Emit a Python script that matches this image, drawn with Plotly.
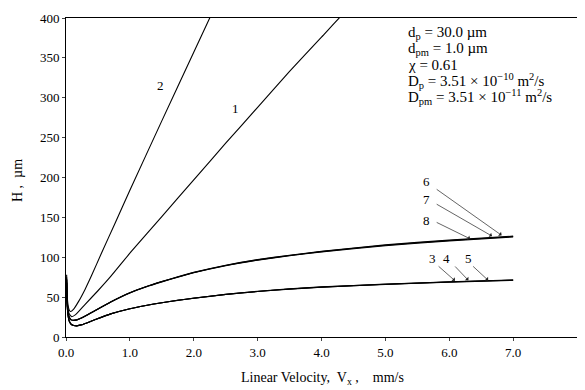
import plotly.graph_objects as go

# ---- data ----
x_c2 = [0.01, 0.015, 0.02, 0.03, 0.05, 0.07, 0.12, 0.2, 0.3, 0.4, 0.56, 0.77, 1.0, 1.5, 2.0, 2.25, 2.3]
h_c2 = [78, 60, 50, 41, 34, 32, 35, 45, 60, 77, 106, 143, 184, 271, 357, 400, 409]

x_c1 = [0.01, 0.015, 0.02, 0.03, 0.05, 0.09, 0.15, 0.3, 0.5, 0.69, 1.03, 1.5, 2.0, 2.5, 3.0, 3.5, 4.0, 4.3, 4.4]
h_c1 = [75, 56, 46, 36, 29, 25.5, 28, 41, 58, 75, 108, 151, 197, 243, 288, 333, 376, 402, 410]

x_grp = [0.01, 0.015, 0.02, 0.03, 0.05, 0.08, 0.12, 0.17, 0.25, 0.43, 0.7, 1.0, 1.25, 1.5, 1.75,
         2.0, 2.5, 3.0, 3.5, 4.0, 5.0, 6.0, 7.0]
h_c6 = [72, 52, 42, 32, 25, 21.5, 21, 21.5, 24, 32, 44, 55.5, 63, 69.5, 75.5,
        81, 90, 97, 102.5, 107.5, 115.5, 121.5, 126.5]
h_c7 = [72, 52, 42, 32, 25, 21.5, 21, 21.5, 24, 32, 44, 55.5, 63, 69.4, 75.3,
        80.8, 89.7, 96.7, 102.2, 107.1, 115, 121, 126]
h_c8 = [72, 52, 42, 32, 25, 21.5, 21, 21.5, 24, 32, 43.8, 55.2, 62.7, 69.1, 75,
        80.5, 89.4, 96.3, 101.8, 106.7, 114.5, 120.5, 125.5]
h_c3 = [68, 48, 38, 28, 20, 16, 14.5, 14, 15.5, 21, 29, 35.5, 39.5, 43, 46,
        48.7, 53.5, 57.3, 60.3, 62.8, 66.3, 69.2, 71.5]
h_c4 = [68, 48, 38, 28, 20, 16, 14.5, 14, 15.5, 21, 29, 35.5, 39.5, 43, 46,
        48.6, 53.4, 57.1, 60.1, 62.6, 66.1, 69.0, 71.3]
h_c5 = [68, 48, 38, 28, 20, 16, 14.5, 14, 15.5, 21, 29, 35.5, 39.5, 43, 45.9,
        48.5, 53.3, 57.0, 60.0, 62.4, 65.9, 68.8, 71.1]

x_ticks = [0, 1, 2, 3, 4, 5, 6, 7, 8]
y_ticks = [0, 50, 100, 150, 200, 250, 300, 350, 400]

# curve labels: (text, x, y)
labels_plain = [("2", 1.48, 315), ("1", 2.65, 287)]
# arrow labels: (text, label_x, label_y, tail_x, tail_y, head_x, head_y)
arrow_labels = [
    ("6", 5.64, 194.7, 5.78, 186.5, 6.82, 127.5),
    ("7", 5.65, 171.8, 5.78, 167.6, 6.67, 126.5),
    ("8", 5.65, 146.7, 5.78, 144.6, 6.33, 123.0),
    ("3", 5.73, 98.7, 5.81, 90.3, 6.09, 70.5),
    ("4", 5.96, 98.7, 6.07, 90.3, 6.30, 71.0),
    ("5", 6.30, 98.7, 6.35, 90.3, 6.61, 71.0),
]

param_lines = [
    "d<sub>p</sub> = 30.0 \u00b5m",
    "d<sub>pm</sub> = 1.0 \u00b5m",
    "\u03c7 = 0.61",
    "D<sub>p</sub> = 3.51 \u00d7 10<sup>\u221210</sup> m<sup>2</sup>/s",
    "D<sub>pm</sub> = 3.51 \u00d7 10<sup>\u221211</sup> m<sup>2</sup>/s",
]

x_title = "Linear Velocity,  V<sub>x</sub> ,    mm/s"
y_title = "H ,  \u00b5m"

FONT = "Liberation Serif"
BLACK = "#000000"
OFF = 8  # page body margin offset
W, H = 577, 382
L, R, T, B = 58, 8, 10, 53
PW, PH = W - L - R, H - T - B


def px(sx):
    return (sx - OFF - L) / PW


def py(sy):
    return (H - B - (sy - OFF)) / PH


fig = go.Figure()
line = dict(color=BLACK, width=1.1, shape="spline", smoothing=0.5)
for xs, hs in [(x_c2, h_c2), (x_c1, h_c1)]:
    fig.add_trace(go.Scatter(x=xs, y=hs, mode="lines", line=line, showlegend=False))
for hs in [h_c6, h_c7, h_c8, h_c3, h_c4, h_c5]:
    fig.add_trace(go.Scatter(x=x_grp, y=hs, mode="lines", line=line, showlegend=False))

ann = []
for t, x, y in labels_plain:
    ann.append(dict(x=x, y=y, text=t, showarrow=False, font=dict(family=FONT, size=13, color=BLACK)))
for t, lx, ly, tx, ty, hx, hy in arrow_labels:
    ann.append(dict(x=lx, y=ly, text=t, showarrow=False, font=dict(family=FONT, size=13, color=BLACK)))
    ann.append(dict(x=hx, y=hy, ax=tx, ay=ty, axref="x", ayref="y", xref="x", yref="y",
                    text="", showarrow=True, arrowhead=1, arrowsize=1.2, arrowwidth=0.7,
                    arrowcolor="#222222", standoff=0, startstandoff=0))
for i, t in enumerate(param_lines):
    ann.append(dict(xref="paper", yref="paper", x=px(406), y=py(33.5 + 15.9 * i),
                    xanchor="left", yanchor="middle", text=t, showarrow=False,
                    font=dict(family=FONT, size=15, color=BLACK)))
# axis titles
ann.append(dict(xref="paper", yref="paper", x=px(322), y=py(378),
                xanchor="center", yanchor="middle", text=x_title, showarrow=False,
                font=dict(family=FONT, size=14, color=BLACK)))
ann.append(dict(xref="paper", yref="paper", x=px(17), y=py(181),
                xanchor="center", yanchor="middle", text=y_title, showarrow=False, textangle=-90,
                font=dict(family=FONT, size=14, color=BLACK)))

fig.update_layout(
    width=W, height=H,
    margin=dict(l=L, r=R, t=T, b=B, autoexpand=False),
    paper_bgcolor="white", plot_bgcolor="white",
    font=dict(family=FONT, size=13, color=BLACK),
    annotations=ann,
    showlegend=False,
)
fig.update_xaxes(range=[0, 8], tickvals=x_ticks, tickformat=".1f", ticks="outside", ticklen=3,
                 showline=True, linecolor=BLACK, linewidth=1, mirror=True, showgrid=False,
                 zeroline=False, automargin=False, tickfont=dict(family=FONT, size=13, color=BLACK))
fig.update_yaxes(range=[0, 400], tickvals=y_ticks, ticks="outside", ticklen=3,
                 showline=True, linecolor=BLACK, linewidth=1, mirror=True, showgrid=False,
                 zeroline=False, automargin=False, tickfont=dict(family=FONT, size=13, color=BLACK))

fig.write_html("out.html")
